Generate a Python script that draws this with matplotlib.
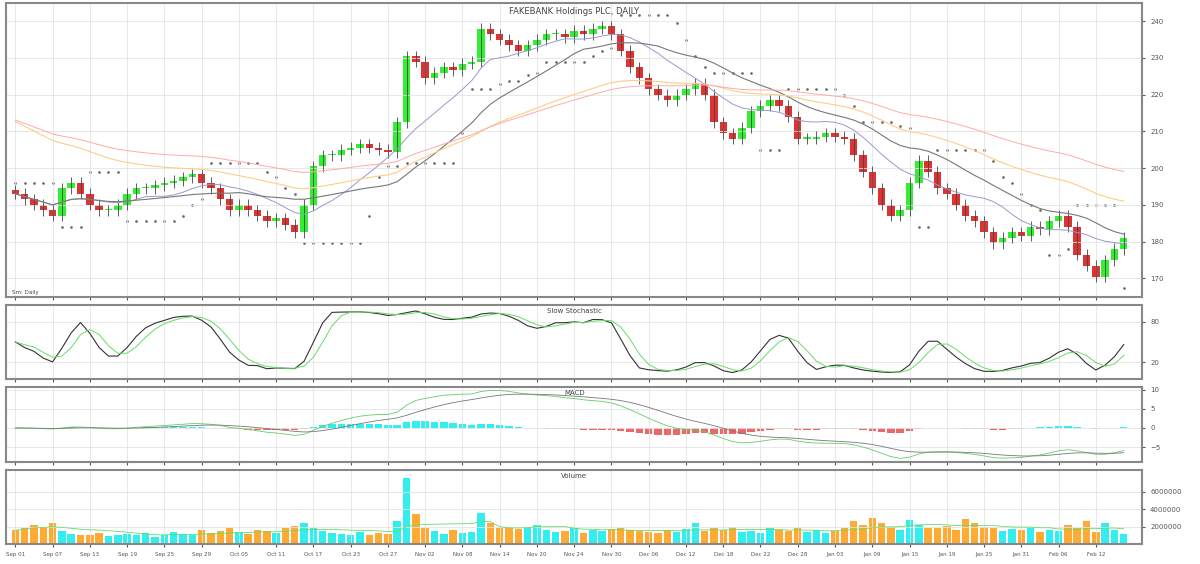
import numpy as np
import pandas as pd
import matplotlib.pyplot as plt
from matplotlib.gridspec import GridSpec

closes = [193, 191.5, 190, 188.5, 187, 194.5, 196, 193, 190, 188.5, 188.5, 190, 193,
          194.5, 194.5, 195.4, 196, 196.6, 197.5, 198.4, 196, 194.5, 191.5, 188.5,
          190, 188.5, 187, 185.5, 186.4, 184.6, 182.5, 190, 200.5, 203.5,
          203.5, 205, 205.6, 206.5, 205.6, 205, 204.4, 212.5, 230.5, 229,
          224.5, 226, 227.5, 226.6, 228.4, 229, 238, 236.5, 235, 233.5,
          232, 233.5, 235, 236.5, 236.5, 235.6, 237.4, 236.5, 238, 238.6, 236.5,
          232, 227.5, 224.5, 221.5, 220, 218.5, 220, 221.5, 223, 220,
          212.5, 209.5, 208, 211, 215.5, 217, 218.5, 217, 214,
          208, 208, 208.6, 209.5, 208.6, 208, 203.5, 199, 194.5,
          190, 187, 188.5, 196, 202, 199, 194.5, 193, 190, 187, 185.5,
          182.5, 179.5, 181, 182.5, 181.6, 184, 183.4, 185.5, 187, 184,
          176.5, 173.5, 170.5, 175, 178, 181]
volumes = [1.6, 1.8, 2.2, 2.0, 2.4, 1.5, 1.2, 1.0, 1.1, 1.3, 0.9, 1.0, 1.2,
           1.1, 1.3, 0.8, 1.0, 1.4, 1.2, 1.0, 1.6, 1.3, 1.5, 1.8,
           1.4, 1.2, 1.6, 1.5, 1.3, 1.8, 2.1, 2.4, 1.9, 1.5,
           1.3, 1.2, 1.0, 1.4, 1.1, 1.3, 1.2, 2.6, 7.5, 3.4,
           1.8, 1.5, 1.2, 1.6, 1.3, 1.4, 3.6, 2.4, 1.8, 2.0,
           1.7, 1.9, 2.2, 1.6, 1.4, 1.5, 1.8, 1.3, 1.6, 1.5, 1.7,
           1.9, 1.6, 1.5, 1.4, 1.3, 1.6, 1.4, 1.7, 2.4, 1.5,
           1.8, 1.6, 2.0, 1.4, 1.5, 1.3, 1.8, 1.6, 1.5,
           1.9, 1.4, 1.6, 1.3, 1.5, 1.8, 2.6, 2.2, 3.0,
           2.4, 2.0, 1.6, 2.8, 2.2, 1.8, 1.9, 2.1, 1.6, 2.9, 2.4,
           2.0, 1.8, 1.5, 1.7, 1.6, 1.9, 1.4, 1.6, 1.5, 2.2,
           1.8, 2.6, 1.4, 2.4, 1.6, 1.2]
# where the slow averages sit at the left edge of the chart
ma_start = [214, 211]
title = "FAKEBANK Holdings PLC, DAILY"

c = pd.Series(closes, dtype=float)
n = len(c)
x = np.arange(n)
o = c.shift(1).fillna(c.iloc[0] + 1.0)
hi = np.maximum(o, c) + 1.5
lo = np.minimum(o, c) - 1.5
up = c >= o

fig = plt.figure(figsize=(12, 5.64), dpi=100, facecolor='white')
gs = GridSpec(4, 1, height_ratios=[295, 75, 75, 75], hspace=0.06,
              left=0.005, right=0.952, top=0.995, bottom=0.035)
axp = fig.add_subplot(gs[0])
axs = fig.add_subplot(gs[1], sharex=axp)
axm = fig.add_subplot(gs[2], sharex=axp)
axv = fig.add_subplot(gs[3], sharex=axp)

for ax in (axp, axs, axm, axv):
    ax.yaxis.tick_right()
    ax.grid(True, color='#e4e4e4', lw=0.6)
    ax.tick_params(labelsize=5, colors='#555555', length=2)
    for s in ax.spines.values():
        s.set_color('#888888')
        s.set_linewidth(1.5)
    ax.set_xlim(-1, n + 1)

# candles
axp.vlines(x, lo, hi, color='#444444', lw=0.6)
axp.bar(x, (c - o).abs().clip(lower=0.4), bottom=np.minimum(o, c), width=0.8,
        color=np.where(up, '#33ee33', '#dd3333'), edgecolor='none')
axp.plot(x, c.rolling(10, min_periods=1).mean(), color='#9999cc', lw=0.7)
axp.plot(x, c.rolling(20, min_periods=1).mean(), color='#777777', lw=0.8)
c_orange = pd.concat([pd.Series([ma_start[0]] * 30, dtype=float), c]).ewm(span=40).mean().iloc[30:]
c_pink = pd.concat([pd.Series([ma_start[1]] * 30, dtype=float), c]).ewm(span=60).mean().iloc[30:]
axp.plot(x, c_orange.values, color='#ffcc88', lw=0.8)
axp.plot(x, c_pink.values + 3, color='#ffaaaa', lw=0.7)
sar = np.where(c > c.rolling(10, min_periods=1).mean(), c.rolling(8, min_periods=1).min() - 3,
               c.rolling(8, min_periods=1).max() + 3)
axp.scatter(x, sar, s=0.8, color='#666666')
axp.set_ylim(165, 245)
axp.set_title(title, fontsize=6, color='#444444', pad=-8, y=1)
axp.text(0.005, 0.01, "Sm: Daily", transform=axp.transAxes, fontsize=4, color='#444444')

# stochastic
ll = c.rolling(14, min_periods=1).min() - 1.5
hh = c.rolling(14, min_periods=1).max() + 1.5
k = 100 * (c - ll) / (hh - ll)
k = k.rolling(3, min_periods=1).mean()
d = k.rolling(3, min_periods=1).mean()
axs.plot(x, k, color='#333333', lw=0.8)
axs.plot(x, d, color='#66dd66', lw=0.7)
axs.set_ylim(-5, 105)
axs.set_yticks([20, 80])
axs.set_title("Slow Stochastic", fontsize=5, color='#444444', pad=-6, y=1)

# MACD
macd = c.ewm(span=12).mean() - c.ewm(span=26).mean()
sig = macd.ewm(span=9).mean()
hist = macd - sig
axm.bar(x, hist * 0.6, width=0.8, color=np.where(hist >= 0, '#33eeee', '#ee6666'))
axm.plot(x, macd, color='#66cc66', lw=0.6)
axm.plot(x, sig, color='#777777', lw=0.6)
axm.set_title("MACD", fontsize=5, color='#444444', pad=-6, y=1)

# volume
v = pd.Series(volumes)
axv.bar(x, v, width=0.8, color=np.where(up, '#33eeee', '#ffaa33'))
axv.plot(x, v.rolling(10, min_periods=1).mean(), color='#66dd66', lw=0.6)
axv.set_ylim(0, 8.5)
axv.set_yticks([2, 4, 6])
axv.set_yticklabels(['2000000', '4000000', '6000000'])
axv.set_title("Volume", fontsize=5, color='#444444', pad=-6, y=1)

dates = pd.bdate_range('2023-09-01', periods=n)
ticks = x[::4]
axv.set_xticks(ticks)
axv.set_xticklabels([dates[i].strftime('%b %d') for i in ticks], fontsize=4)
for ax in (axp, axs, axm):
    plt.setp(ax.get_xticklabels(), visible=False)

fig.savefig('out.png', dpi=100, facecolor='white')
